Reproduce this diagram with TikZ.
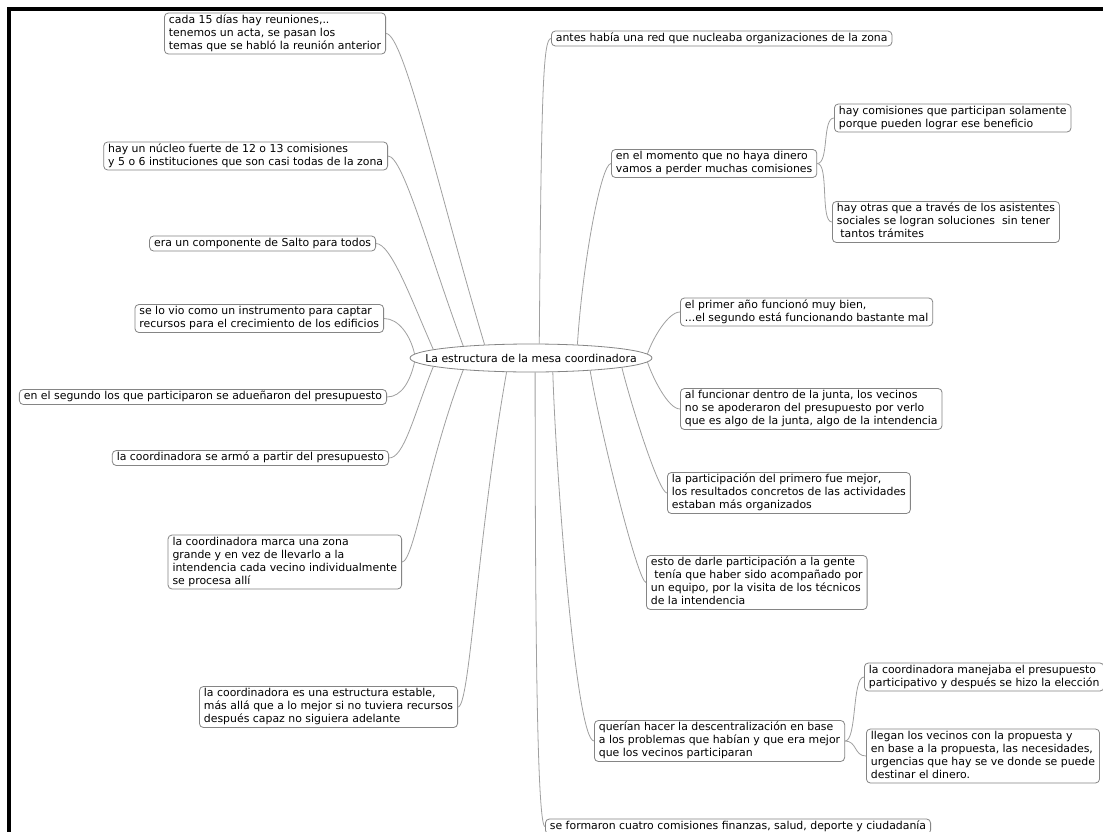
\documentclass[tikz,border=0pt]{standalone}
\usepackage{fontspec}
\setmainfont{DejaVu Sans}
\usetikzlibrary{shapes.geometric}
\definecolor{boxgray}{HTML}{858585}
\definecolor{edgegray}{HTML}{A0A0A0}
\newcommand\mapfont{\fontsize{10.9bp}{13bp}\selectfont}
\begin{document}
\begin{tikzpicture}[x=1bp,y=-1bp,
  mbox/.style={draw=boxgray, line width=0.8bp, rounded corners=4bp, fill=white,
    inner xsep=4.5bp, inner ysep=1bp, align=left, font=\mapfont},
  lbox/.style={mbox, anchor=east},
  rbox/.style={mbox, anchor=west},
  conn/.style={draw=edgegray, line width=0.8bp}]
\useasboundingbox (0,0) rectangle (1103,832);
\fill[white] (-2,-2) rectangle (1105,834);
\clip (0,0) rectangle (1103,832);
\fill[black] (7.3,7.3) rectangle (10.8,832);
\fill[black] (7.3,7.3) rectangle (1103,10.8);

% root
\node[ellipse, draw=boxgray, line width=0.8bp, fill=white, minimum width=242bp,
  minimum height=28bp, inner sep=0pt] (root) at (531,358) {};
\node[font=\mapfont, inner sep=0pt] (roottext) at (root.center) {La estructura de la mesa coordinadora};

% left nodes
\node[lbox] (c15) at (386,33.5) {\strut cada 15 días hay reuniones,..\\tenemos un acta, se pasan los\\temas que se habló la reunión anterior\strut};
\node[lbox] (nucleo) at (388,156) {\strut hay un núcleo fuerte de 12 o 13 comisiones\\y 5 o 6 instituciones que son casi todas de la zona\strut};
\node[lbox] (comp) at (376,243.5) {\strut era un componente de Salto para todos\strut};
\node[lbox] (vio) at (384,318.5) {\strut se lo vio como un instrumento para captar\\recursos para el crecimiento de los edificios\strut};
\node[lbox] (seg) at (387,397) {\strut en el segundo los que participaron se adueñaron del presupuesto\strut};
\node[lbox] (armo) at (389,458) {\strut la coordinadora se armó a partir del presupuesto\strut};
\node[lbox] (marca) at (402,562) {\strut la coordinadora marca una zona\\grande y en vez de llevarlo a la\\intendencia cada vecino individualmente\\se procesa allí\strut};
\node[lbox] (estable) at (458,707) {\strut la coordinadora es una estructura estable,\\más allá que a lo mejor si no tuviera recursos\\después capaz no siguiera adelante\strut};

% right nodes
\node[rbox] (antes) at (551,38.5) {\strut antes había una red que nucleaba organizaciones de la zona\strut};
\node[rbox] (momento) at (611,163.5) {\strut en el momento que no haya dinero\\vamos a perder muchas comisiones\strut};
\node[rbox] (comis) at (834,118) {\strut hay comisiones que participan solamente\\porque pueden lograr ese beneficio\strut};
\node[rbox] (otras) at (832,222) {\strut hay otras que a través de los asistentes\\sociales se logran soluciones\ \ sin tener\\\hspace*{0.32em}tantos trámites\strut};
\node[rbox] (primer) at (680,312) {\strut el primer año funcionó muy bien,\\...el segundo está funcionando bastante mal\strut};
\node[rbox] (funcionar) at (680,409) {\strut al funcionar dentro de la junta, los vecinos\\no se apoderaron del presupuesto por verlo\\que es algo de la junta, algo de la intendencia\strut};
\node[rbox] (particip) at (667,493) {\strut la participación del primero fue mejor,\\los resultados concretos de las actividades\\estaban más organizados\strut};
\node[rbox] (esto) at (646,582.5) {\strut esto de darle participación a la gente\\\hspace*{0.32em}tenía que haber sido acompañado por\\un equipo, por la visita de los técnicos\\de la intendencia\strut};
\node[rbox] (querian) at (594,741) {\strut querían hacer la descentralización en base\\a los problemas que habían y que era mejor\\que los vecinos participaran\strut};
\node[rbox] (manejaba) at (864,677) {\strut la coordinadora manejaba el presupuesto\\participativo y después se hizo la elección\strut};
\node[rbox] (llegan) at (866,756) {\strut llegan los vecinos con la propuesta y\\en base a la propuesta, las necesidades,\\urgencias que hay se ve donde se puede\\destinar el dinero.\strut};
\node[rbox] (formaron) at (545,826.5) {\strut se formaron cuatro comisiones finanzas, salud, deporte y ciudadanía\strut};

% connectors, left side
\draw[conn] (c15.east) .. controls +(18,0) and +(-45,-150) .. (root.164);
\draw[conn] (nucleo.east) .. controls +(15,0) and +(-35,-95) .. (root.170);
\draw[conn] (comp.east) .. controls +(15,0) and +(-22,-50) .. (root.175);
\draw[conn] (vio.east) .. controls +(15,0) and +(-4,-18) .. (root.178);
\draw[conn] (seg.east) .. controls +(15,0) and +(-4,18) .. (root.182);
\draw[conn] (armo.east) .. controls +(15,0) and +(-20,50) .. (root.185);
\draw[conn] (marca.east) .. controls +(12,0) and +(-35,90) .. (root.190);
\draw[conn] (estable.east) .. controls +(12,0) and +(-30,170) .. (root.210);

% connectors, right side
\draw[conn] (antes.west) .. controls +(-8,0) and +(2,-250) .. (root.60);
\draw[conn] (momento.west) .. controls +(-10,0) and +(5,-80) .. (root.16);
\draw[conn] (primer.west) .. controls +(-12,0) and +(5,-15) .. (root.2);
\draw[conn] (funcionar.west) .. controls +(-12,0) and +(5,15) .. (root.358);
\draw[conn] (particip.west) .. controls +(-8,0) and +(10,40) .. (root.354);
\draw[conn] (esto.west) .. controls +(-8,0) and +(10,60) .. (root.348);
\draw[conn] (querian.west) .. controls +(-18,0) and +(3,100) .. (root.327);
\draw[conn] (formaron.west) .. controls +(-8,0) and +(0,250) .. (root.286);

% second level
\draw[conn] (momento.east) .. controls +(12,0) and +(-12,0) .. (comis.west);
\draw[conn] (momento.east) .. controls +(12,0) and +(-12,0) .. (otras.west);
\draw[conn] (querian.east) .. controls +(12,0) and +(-12,0) .. (manejaba.west);
\draw[conn] (querian.east) .. controls +(12,0) and +(-12,0) .. (llegan.west);
\end{tikzpicture}
\end{document}
